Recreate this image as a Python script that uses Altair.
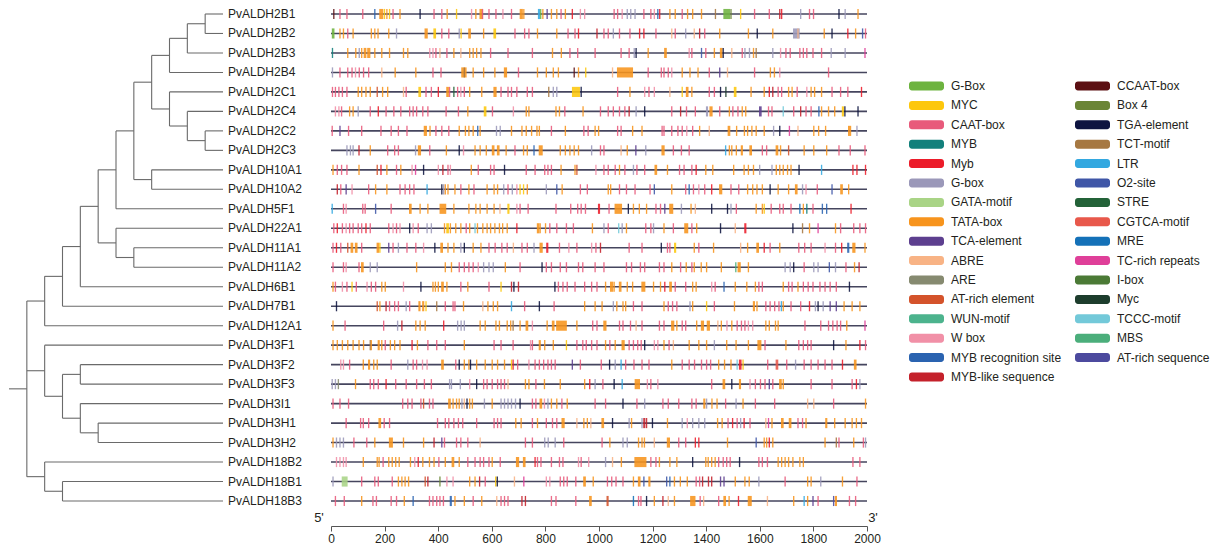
import re
import altair as alt
import pandas as pd

# ---------------- data ----------------
genes = ["PvALDH2B1", "PvALDH2B2", "PvALDH2B3", "PvALDH2B4", "PvALDH2C1", "PvALDH2C4",
         "PvALDH2C2", "PvALDH2C3", "PvALDH10A1", "PvALDH10A2", "PvALDH5F1", "PvALDH22A1",
         "PvALDH11A1", "PvALDH11A2", "PvALDH6B1", "PvALDH7B1", "PvALDH12A1", "PvALDH3F1",
         "PvALDH3F2", "PvALDH3F3", "PvALDH3I1", "PvALDH3H1", "PvALDH3H2", "PvALDH18B2",
         "PvALDH18B1", "PvALDH18B3"]

promoter_bp = 2000
axis_ticks = [0, 200, 400, 600, 800, 1000, 1200, 1400, 1600, 1800, 2000]

legend_col1 = ["G-Box", "MYC", "CAAT-box", "MYB", "Myb", "G-box", "GATA-motif", "TATA-box",
               "TCA-element", "ABRE", "ARE", "AT-rich element", "WUN-motif", "W box",
               "MYB recognition site", "MYB-like sequence"]
legend_col2 = ["CCAAT-box", "Box 4", "TGA-element", "TCT-motif", "LTR", "O2-site", "STRE",
               "CGTCA-motif", "MRE", "TC-rich repeats", "I-box", "Myc", "TCCC-motif", "MBS",
               "AT-rich sequence"]
colors_col1 = ["#6db33f", "#fdc70c", "#e85a7b", "#12807c", "#ec1c2a", "#9b98b9", "#a9d486",
               "#f7941d", "#5d3f8f", "#f8b385", "#868a70", "#d4532b", "#4cb38d", "#f190a7",
               "#2a63b0", "#c4212b"]
colors_col2 = ["#5c1013", "#6b8536", "#0e1440", "#a67842", "#33a8e0", "#3f56a7", "#236238",
               "#e8584b", "#1471b8", "#df3f99", "#4b7a36", "#1d3d2d", "#73c9d9", "#4bae7b",
               "#4c4a9e"]
codes_col1 = "VYCDMgGTPAREUWBL"
codes_col2 = "cbKxlosXrmiyqSQ"

# each token: position(bp) + element code + optional length(bp)
element_rows = [
 "8c 31C 57C 116C 161B 180T15 197Y 206T 216Y 229C 255T 330K 382C 411C 431T 466Y 522W 538T 554T12 563C 587C 613C 639W 671C 704T12 717T 772l8 780V 788T 804P 820T 840T 856C 872T 898M 928W 944W 1054C 1067C 1084W 1103g 1116g 1132g 1165C 1191C 1204W 1217B 1224M 1262T 1282T 1308C 1328T 1347T 1380T 1432x 1464V25 1490b 1526Y 1578C 1633C 1672L 1679M 1750g 1783C 1798C 1893K 1916g 1964T",
 "3V10 31T 44T 60C 80T 148T 161T 173T 213T 242g 349T12 382Y10 411C 437C 476g 483Y 512T10 567T 606Y10 684C 720C 736C 768T 840T 882C 908C 921M 990L 1016C 1032C 1051g 1074C 1113C 1149M 1165M 1210C 1269A 1282C 1321g 1353A 1373L 1392C 1448T 1555T 1588K 1646T 1724g25 1740A 1838T 1867K 1926M 1955T 1981o 1992C",
 "3D 60T 90T 103g 112T 122T10 135T12 161T 187T 216T 268T 284T 366W 378W 389C 404A 430C 456T 482A 515T 528T 541T 557T 593C 658C 749C 824T 857T 889C 918C 983C 1080C 1110C 1129g 1136K 1181T 1243T10 1334W 1344C 1380o 1396C 1428T 1451T10 1461K 1493A 1532C 1542g 1559g 1574T 1584x 1646g 1675W 1695C 1711C 1747C 1760C 1773C 1796C 1828C 1864g 1916g 1990m",
 "3g 31C 60C 76C 89W 103C 119C 138C 187A 237T 314T 378C 408C 486T20 495x 528T 567T 609T 645T12 697C 768T 801T 827T 846T 905c 921T 948Y 1048A 1067T60 1181C 1230C 1240C 1256C 1269W 1308T 1337T 1367T 1409C 1448P 1477A 1578C 1637T 1652T 1672W 1854C",
 "3C 14C 27C 40C 57C 99T 112T 128T 144T 170E 190T 209T 268A 278C 326Y10 352C 372C 398M 430T10 440C 456s 470C 482W 495C 515T 560T 606T12 632C 658C 671C 691C 730C 749C 810x 827g 840g 899Y30 931K 1067C 1113T 1168W 1184C 1204W 1262A 1308Y 1324T10 1344T 1409C 1428C 1451K 1471y 1503Y10 1565T 1614T 1633M 1646L 1666C 1679C 1705T 1718T 1737C 1773W 1789T 1802T 1828T 1867C 1899C 1926C 1977M",
 "14W 27W 37C 67T 80T 99g 144C 174M 203C 232C 258C 291C 304C 317C 340C 359C 427C 473C 508T 570Y10 600C 678W 726T 736T 837T 850T 870C 938T 1003C 1032C 1051C 1074C 1094C 1110L 1136g 1168K 1269C 1302L 1324C 1357C 1399g8 1412T12 1448C 1484T 1497C 1516C 1532T 1545T 1597P10 1630C 1643C 1685q 1724C 1750L 1770C 1789C 1818B 1828T 1854T 1877T 1906Y8 1915K 1964K",
 "2C 31P 63C 112C 184C 222C 249C 281C 346T12 367T 389C 411C 437C 476T 499T 512T 528T 545B 554T 615g 629g 671T 710T 726T 746T 766T 775T 820C 872T 941C 957C 983T 996T 1067C 1080C 1123T 1158T 1233C 1240C 1269C 1292C 1308C 1325W 1347C 1373T 1409A 1480T10 1511T 1540T 1552T 1568T 1584T 1614T 1649g 1672K 1708m 1740A 1799T 1817T 1843T 1929T12 1960g",
 "57g 70g 80g 102L 144T 209C 235C 249C 313g 324T12 366C 428T 476K 492W 535T 554T 577T 600T10 619T10 651T 684C 716T 730T 755B 775T15 853T 872T 889T 905T 921T 970g 1003C 1016C 1080A 1103T 1135P 1172g 1233T12 1275C 1305C 1334C 1470l 1484T 1493T 1510T 1529T8 1561T10 1607C 1623C 1659T10 1675T 1705E 1763T 1799T 1847T 1893C 1935C 1990C",
 "5T 21C 37C 57C 102T 170E 184M 206T 242C 258T 300W 313m 343K 398W 415L 434C 443W 521T 547C 593C 606C 645K 726C 759C 795C 807C 820C 856T 908T 915E 986W 1016C 1032C 1058C 1074T 1094C 1126g 1139C 1168C 1207T10 1253T 1298C 1315C 1344C 1360M 1396T 1422T 1500T 1539T 1555T 1574T 1597g 1643g 1659T 1672T 1685T 1701T 1714T 1744K 1828l 1945M 1960M 1992M",
 "21L 34C 54P 76W 138C 164T 206T 255C 274C 291C 307C 356l 411K 418g 424T 434T 460T 482C 512T 531C 580T 606T 619T 642g 658C 674g 691W 703Y 716Y 730T 801g 840o 860T 928C 954C 1032T 1041T 1074C 1100C 1132C 1188C 1204o 1269T 1321C 1334B 1350C 1370W 1392C 1418M 1448T12 1490C 1519C 1552T 1571T 1587T 1607T 1636K 1666T 1705T 1731T10 1757g 1770W 1812C 1867o 1900T10 1929T",
 "2l 44C 54W 116C 125C 164o 222C 291T10 330T 359T 405T25 456T 512T 538T 554T 580T 606T 628A 658Y8 691W 703C 733C 837C 892C 918C 931C 947C 996M8 1035C 1058T28 1107K 1126T 1148T 1175T 1210C 1227C 1243P 1262T15 1305g 1341T 1357A 1418K 1477K 1490g 1510C 1584T 1607T 1614Y 1640C 1672C 1685C 1714C 1747r 1760T 1773D 1796C 1831B 1847B 1938M",
 "8C 21M 40C 54W 67C 80C 99C 112C 128M 144C 213C 229W 242C 255W 291K 304W 323C 356g 372g 421T 430Y10 443T 463T 482T 502C 515T 535q 544T 564T 580T 593T 609T 626T 638T 655T 691M 768T10 778T 798T 814C 840C 876C 902C 973T 1016g 1032C 1071q 1084g 1100T 1172C 1191C 1201g 1240T 1275C 1318T15 1344C 1362T 1451K 1506A 1542M8 1721K 1757x 1783T 1815m 1880T 1899C 1948C 1971C 1992C",
 "5C 18M 34C 60E 73T10 89T10 112C 170T10 180Y 213P 229C 249g 281C 314C 343W 385K 408T10 434T 456T 482g 495K 528T 557T 587C 610C 635C 655C 678A 710C 730C 755g 778T12 803M8 850C 885W 915C 970W 986C 1003L 1110C 1158C 1230K 1253C 1262C 1280Y8 1353T 1370C 1425T 1526A 1552T 1587T10 1614M 1636C 1672T 1743C 1765C 1789C 1841W 1880C 1903M 1926B8 1945T12 1990T",
 "5C 44C 54W 102C 112T10 144g 170g 317T 424T 447T 476C 495C 512C 528C 547W 567g 587g 603g 648T 703C 785K 801C 820C 853C 876C 921C 937C 983C 1016C 1100C 1119C 1152C 1168C 1223C 1240C 1269T 1302C 1323T 1344C 1353T 1379T 1399T 1454T 1508S 1517T12 1555T 1692g 1711g 1724K 1763C 1799g 1815g 1857o 1880g 1919C 1951T 1968L",
 "5T 14C 40W 57C 76Y 92C 132W 148C 164C 187T 200T 268W 333K 378T 387T 398T 411T10 430T 482C 508T 587C 632Y 671L 680K 697L 833K 846C 863C 879C 908C 944C 970C 990C 1022T 1041T12 1054T 1074T10 1103T 1123T 1158T15 1201T 1227T 1243M 1262T10 1282C 1321C 1347T 1360T 1418W 1431C 1464B 1506T 1549T 1581T 1594C 1607C 1685T 1705C 1718C 1740T 1760C 1778C 1796C 1822C 1841C 1860C 1883C 1932K",
 "18K 170E 180T 203L 216C 235C 249C 278g 291C 326T8 340T8 352Y 392x 424C 453C 460C 492T 564A 583T 603T 619T 671l 720C 775K 830C 944T 983T 1009T 1051g 1064T 1087T 1097T 1126C 1158C 1240T 1256C 1272C 1288C 1337g 1347T 1399Y 1428C 1503T 1574T8 1587T 1620C 1636C 1653C 1669C 1678l 1685T 1714C 1750C 1783M 1805g 1815K 1834g 1860P 1883P 1912T 1942T 1971T",
 "5T 50C 194C 246g 262L 314T 330T 349T 418M 470g 483g 495g 554T 573T 613T 626T 655T 668T 677x 703T 726T10 749W 804T 824T10 840T40 915T 974C 990C 1016T12 1074C 1087C 1115C 1136A 1158C 1223C 1240C 1269T12 1288T 1308C 1321C 1362T 1380T12 1402T12 1441A 1454T 1475W 1493T 1513C 1529C 1542C 1555W 1571W 1620T 1633T 1656T 1666T 1766C 1825C 1854C 1870C 1886C 1899C 1922T 1990m",
 "5T 21T 40T 60T 80T 102T 119T 144x 148T 174T8 187T 200C 219T 235T 255T 300M 320T 359C 392C 424C 495T 606C 632C 677C 742W 749C 775T8 795T 827T 876Y 915C 937C 950C 970C 990C 1022T 1038C 1058T 1084T12 1110C 1126C 1142C 1155C 1168K 1204W 1217W 1240T 1259C 1275A 1334T 1370T 1399T 1428g 1474T 1509T 1555T 1591T15 1617C 1695T 1743C 1760C 1776C 1789C 1873K 1919T 1971M 1992C",
 "34W 44W 67C 118T 138T8 157T 170T 222C 284g 304C 317C 339W 356W 411T10 463C 476K 495T 512T 518K 541T 573T 599T 619T 645T 671Y 677M 694C 736W 759C 775C 791C 807C 820C 834C 898P 928C 1006C 1037K 1058g 1080l 1097C 1128C 1158C 1184C 1269T 1308C 1334C 1354C 1380C 1399C 1414C 1444T 1466T 1490T 1513q 1522M10 1535Y 1627C 1659X10 1698C 1731g 1763C 1789C 1815C 1841C 1867C 1906M 1951T10",
 "2g 14g 25R 89T 144C 157C 174C 203M 239C 278C 317C 346C 372C 440g 447g 480g 515W 541K 567C 580C 599C 619C 632C 645C 658A 723T 736T 762C 794T 853T 944T 963M 983g 1012C 1054K 1084l 1133T20 1178W 1191C 1217W 1418C 1461T10 1493K 1522T8 1561W 1581C 1600C 1617C 1633P 1646C 1672T10 1685T 1789C 1867C 1942C 1958M 1971g",
 "5C 31C 63C 265C 284C 300C 333C 343E 365C 378C 437T10 453T 466T 476T 486g 495A 505K 515T 525T 570g 599T 632g 645g 658g 671g 686g 703K 749C 762C 778T10 794W 807g 820T 840T 859C 879T 983C 1022C 1087K 1139C 1168g 1236C 1256C 1295C 1344C 1360C 1389T8 1399g 1419T 1438T 1470C 1509g 1535T 1581C 1653C 1776A 1799A 1873C 1992T",
 "54C 108C 118C 138C 177T10 196C 216C 395C 424C 437C 456C 473C 489C 541C 606C 619C 632C 687T 707T 749C 768T 801C 824C 840C 860T12 915A 941T 954T 967A 1009T10 1048K 1110g 1119T 1158g 1165L8 1175L 1197K 1253T 1308g 1327W 1347g 1370g 1392g 1440T 1457T 1479C 1496M 1513C 1526g 1539M 1561C 1620A 1630m 1643T 1679T10 1708T10 1740C 1757C 1770T 1844T8 1877T 1916T 1942T 1958T 1977T",
 "5T 18g 31g 44g 83C 131C 161T 216T15 268T 343T 382L 411P 421C 466C 482C 508C 554A 723C 749C 795g 808g 834g 866C 1009C 1038T 1087g 1103g 1145T 1158T 1167T 1204A 1253T12 1295C 1321C 1357M 1370M 1477T 1584o 1614T 1623T 1633M 1646T 1841T 1883x 1893C 1948T 1984C 1992g",
 "18W 31W 44W 54W 118T 170T 177T 192C 213T 226T 239T 252T 294T 310W 323M 340T 365T 382T 400C 424T 450T10 476T 508C 535C 554C 567C 587C 599T 629C 690T12 716T10 759M 768C 781C 820C 850C 863C 921W 931C 959W 1022g 1048A 1081T 1132T45 1191C 1210C 1223T 1262T 1288T 1347K 1396T 1405T 1418T 1431T 1444C 1461C 1474C 1487C 1522K 1594C 1607C 1626C 1666T 1679T 1692T 1705T 1721T 1747T 1760T 1945C 1971C",
 "5g 40G22 112C 161C 174C 226C 249T 262T 274T 287T 349E 359L 404b 430W 453W 515T 535T 552L 573C 612Y 618K 682A 717m 801W 814W 853C 866C 879C 911C 941T10 976T 1029C 1045C 1061C 1087C 1126T 1145T10 1165o 1184T8 1250o 1262B 1279T 1301T 1327T 1360C 1373C 1384L 1406L 1418L 1451P 1464P 1506T 1542T 1558T 1594g 1692C 1776T 1789T 1825g 1906T 1960C",
 "14C 47C 112T 154C 167C 222C 242C 271T 304B 365C 378C 392C 404C 417C 443B8 460T 495T 528C 560T 616A 632C 645C 658C 710L 723L 820C 837C 911C 963T10 1028E8 1126r 1145C 1154C 1175K 1204T 1236L 1256A 1279T 1340T20 1375C 1388A 1444C 1464T10 1483T 1518M 1555T15 1626A 1724T 1763l 1776T 1796P 1815C 1873Q 1880T8 1932C 1955C",
]
default_len = 5

# cladogram: (node, level, children); leaves sit at level 12, root stub starts at level 0
leaf_level = 12
tree_nodes = [
    ("n1", 11, ["PvALDH2B1", "PvALDH2B2"]),
    ("n2", 10, ["n1", "PvALDH2B3"]),
    ("n3", 9, ["n2", "PvALDH2B4"]),
    ("n4", 11, ["PvALDH2C2", "PvALDH2C3"]),
    ("n5", 10, ["PvALDH2C4", "n4"]),
    ("n6", 9, ["PvALDH2C1", "n5"]),
    ("n7", 8, ["n3", "n6"]),
    ("n8", 8, ["PvALDH10A1", "PvALDH10A2"]),
    ("n9", 7, ["n7", "n8"]),
    ("n10", 6, ["n9", "PvALDH5F1"]),
    ("n11", 7, ["PvALDH11A1", "PvALDH11A2"]),
    ("n12", 6, ["PvALDH22A1", "n11"]),
    ("n13", 5, ["n10", "n12"]),
    ("n14", 4, ["n13", "PvALDH6B1"]),
    ("n15", 3, ["n14", "PvALDH7B1"]),
    ("n16", 2, ["n15", "PvALDH12A1"]),
    ("n17", 4, ["PvALDH3F2", "PvALDH3F3"]),
    ("n18", 5, ["PvALDH3H1", "PvALDH3H2"]),
    ("n19", 4, ["PvALDH3I1", "n18"]),
    ("n20", 3, ["n17", "n19"]),
    ("n21", 2, ["PvALDH3F1", "n20"]),
    ("n22", 3, ["PvALDH18B1", "PvALDH18B3"]),
    ("n23", 2, ["PvALDH18B2", "n22"]),
    ("root", 1, ["n16", "n21", "n23"]),
]

# ---------------- tables ----------------
names = legend_col1 + legend_col2
code_to_name = dict(zip(list(codes_col1) + list(codes_col2), names))
legend_order = names                      # Vega fills legend columns top-to-bottom
legend_colors = colors_col1 + colors_col2

tok = re.compile(r"(\d+)([A-Za-z])(\d*)")
el_rows = []
for i, (g, s) in enumerate(zip(genes, element_rows)):
    for m in tok.finditer(s):
        p = int(m.group(1))
        w = int(m.group(3)) if m.group(3) else default_len
        el_rows.append({"gene": g, "start": p, "end": min(p + w, promoter_bp),
                        "ylo": i - 0.26, "yhi": i + 0.26,
                        "element": code_to_name[m.group(2)]})
elements_df = pd.DataFrame(el_rows)

backbone_df = pd.DataFrame({"gene": genes, "row": list(range(len(genes))),
                            "start": 0, "end": promoter_bp})

pos = {g: (leaf_level, float(i)) for i, g in enumerate(genes)}
segs = []
for name, lvl, kids in tree_nodes:
    ys = [pos[k][1] for k in kids]
    for k in kids:
        segs.append({"x": lvl, "x2": pos[k][0], "y": pos[k][1], "y2": pos[k][1]})
    segs.append({"x": lvl, "x2": lvl, "y": min(ys), "y2": max(ys)})
    pos[name] = (lvl, (min(ys) + max(ys)) / 2)
segs.append({"x": 0, "x2": 1, "y": pos["root"][1], "y2": pos["root"][1]})
tree_df = pd.DataFrame(segs)
leaf_df = pd.DataFrame({"gene": genes, "lvl": leaf_level, "row": list(range(len(genes)))})

# ---------------- chart ----------------
FONT = "Liberation Sans"
ROW_H = 19.48
H = 518
y_scale = alt.Scale(domain=[-6 / ROW_H, (H - 6) / ROW_H], reverse=True, nice=False, zero=False)
tree_x = alt.Scale(domain=[0, leaf_level], range=[-322, -108], nice=False, zero=False)
bp_x = alt.Scale(domain=[0, promoter_bp], nice=False, zero=False)

tree_lines = alt.Chart(tree_df).mark_rule(color="#6a6a6a", strokeWidth=1.1).encode(
    x=alt.X("x:Q", scale=tree_x, axis=None), x2="x2:Q",
    y=alt.Y("y:Q", scale=y_scale, axis=None), y2="y2:Q")
tree_labels = alt.Chart(leaf_df).mark_text(align="left", baseline="middle", dx=5,
                                           font=FONT, fontSize=12, color="#231f20").encode(
    x=alt.X("lvl:Q", scale=tree_x, axis=None),
    y=alt.Y("row:Q", scale=y_scale, axis=None), text="gene:N")
tree = alt.layer(tree_lines, tree_labels)

backbone = alt.Chart(backbone_df).mark_rule(color="#45455e", strokeWidth=1.6).encode(
    x=alt.X("start:Q", scale=bp_x,
            axis=alt.Axis(values=axis_ticks, title=None, grid=False, labelFont=FONT,
                          labelFontSize=12, labelColor="#231f20", labelFlush=False,
                          domainColor="#555555", tickColor="#555555", tickSize=5,
                          labelPadding=2, format="d")),
    x2="end:Q", y=alt.Y("row:Q", scale=y_scale, axis=None))

PILL = ("M-0.83,-0.257 L0.83,-0.257 A0.17,0.17 0 0 1 1,-0.087 L1,0.087 "
        "A0.17,0.17 0 0 1 0.83,0.257 L-0.83,0.257 A0.17,0.17 0 0 1 -1,0.087 "
        "L-1,-0.087 A0.17,0.17 0 0 1 -0.83,-0.257 Z")

elements = alt.Chart(elements_df).mark_rect(opacity=0.88).encode(
    x=alt.X("start:Q", scale=bp_x), x2="end:Q",
    y=alt.Y("ylo:Q", scale=y_scale, axis=None), y2="yhi:Q",
    color=alt.Color("element:N",
                    scale=alt.Scale(domain=legend_order, range=legend_colors),
                    legend=alt.Legend(orient="none", legendX=578, legendY=72, columns=2,
                                      title=None, symbolType=PILL, symbolSize=1225,
                                      symbolStrokeWidth=0, symbolOpacity=1, symbolLimit=0,
                                      labelFont=FONT, labelFontSize=12,
                                      labelColor="#231f20", labelOffset=7, labelLimit=300,
                                      rowPadding=7.4, columnPadding=13, clipHeight=12,
                                      padding=0)))

five = alt.Chart(pd.DataFrame({"t": ["5'"]})).mark_text(
    font=FONT, fontSize=13, color="#231f20", baseline="middle", align="center").encode(
    x=alt.value(-12), y=alt.value(510), text="t:N")
three = alt.Chart(pd.DataFrame({"t": ["3'"]})).mark_text(
    font=FONT, fontSize=13, color="#231f20", baseline="middle", align="center").encode(
    x=alt.value(542), y=alt.value(510), text="t:N")

main = alt.layer(backbone, elements, five, three)

chart = alt.layer(tree, main).resolve_scale(x="independent").properties(
    width=536, height=H, padding=0
).configure_view(stroke=None)

chart.save("out.html", embed_options={"renderer": "svg", "actions": False})
